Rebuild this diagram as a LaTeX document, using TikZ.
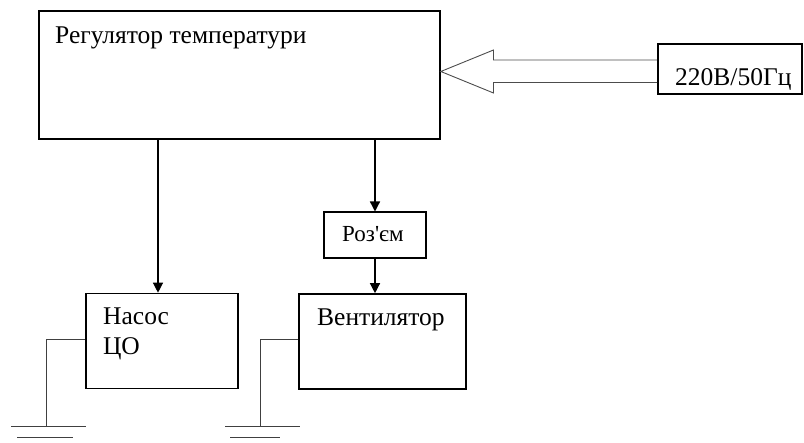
\documentclass[tikz,border=0pt]{standalone}
\usepackage{fontspec}
\setmainfont{Liberation Serif}
\usetikzlibrary{arrows.meta}
\begin{document}
\begin{tikzpicture}[x=1pt,y=-1pt,
  blk/.style={draw=black,line width=1.6pt,rectangle,inner sep=0pt},
  txt/.style={anchor=base west,inner sep=0pt,font=\fontsize{25.5}{30}\selectfont},
  small/.style={anchor=base west,inner sep=0pt,font=\fontsize{23}{27}\selectfont},
  link/.style={line width=1.3pt,-{Triangle[length=10pt,width=10pt]}},
  gnd/.style={draw=black!75,line width=0.9pt},
  hollow/.style={draw=black!70,line width=0.9pt}]
\useasboundingbox (0,0) rectangle (804,443);
% boxes
\node[blk,minimum width=401pt,minimum height=128pt] (reg) at (239.5,75) {};
\node[blk,minimum width=144pt,minimum height=50pt] (pwr) at (730,69) {};
\node[blk,minimum width=102pt,minimum height=46pt] (roz) at (375,235.3) {};
\node[blk,minimum width=152pt,minimum height=95pt] (pump) at (162,341) {};
\node[blk,minimum width=167pt,minimum height=95pt] (fan) at (382.5,341.5) {};
% texts
\node[txt] (regt) at (55,44) {Регулятор температури};
\node[txt] (pwrt) at (675,86) {220В/50Гц};
\node[small] (rozt) at (342,242) {Роз\textquotesingle єм};
\node[txt] (pumpt) at (103,325) {Насос};
\node[txt] (pumpt2) at (103,355) {ЦО};
\node[txt] (fant) at (317,326) {Вентилятор};
% arrows
\draw[link] (reg.south -| 158,0) -- (pump.north -| 158,0);
\draw[link] (reg.south -| roz.north) -- (roz.north);
\draw[link] (roz.south) -- (roz.south |- fan.north);
% hollow power arrow
\coordinate (tip) at (reg.east |- 0,71.5);
\draw[hollow] (pwr.west |- 0,60) -- (493.5,60) -- (493.5,50) -- (tip) -- (493.5,93) -- (493.5,82.5) -- (pwr.west |- 0,82.5);
% grounds
\coordinate (g1) at (46,426);
\coordinate (g2) at (260,426.5);
\draw[gnd] (pump.west |- 0,339.3) -- (g1 |- 0,339.3) -- (g1);
\draw[gnd] (11,426) -- (86,426);
\draw[gnd] (17,437.5) -- (72.5,437.5);
\draw[gnd] (fan.west |- 0,339.3) -- (g2 |- 0,339.3) -- (g2);
\draw[gnd] (225,426.5) -- (300,426.5);
\draw[gnd] (230,437.5) -- (280,437.5);
\end{tikzpicture}
\end{document}
